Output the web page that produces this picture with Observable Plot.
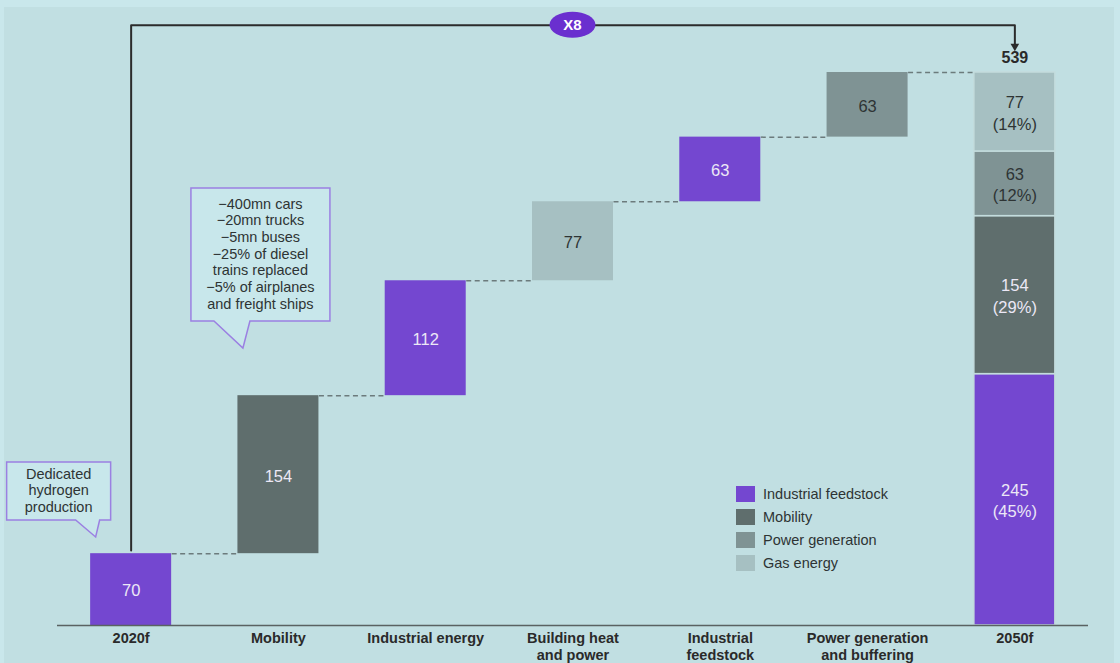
<!DOCTYPE html>
<html><head><meta charset="utf-8">
<script src="https://cdn.jsdelivr.net/npm/d3@7"></script>
<script src="https://cdn.jsdelivr.net/npm/@observablehq/plot@0.6"></script>
<style>
html,body{margin:0;padding:0;background:#c9e7eb;}
#chart{position:relative;width:1120px;height:663px;overflow:hidden;}
#chart svg{position:absolute;left:0;top:0;}
</style></head><body><div id="chart"></div>
<script>
// ---- data ----
const categories = ["2020f","Mobility","Industrial energy","Building heat\nand power","Industrial\nfeedstock","Power generation\nand buffering","2050f"];
const stepValues = [70, 154, 112, 77, 63, 63];
const stepGroups = ["Industrial feedstock","Mobility","Industrial feedstock","Gas energy","Industrial feedstock","Power generation"];
const finalGroups = ["Industrial feedstock","Mobility","Power generation","Gas energy"];
const finalValues = [245, 154, 63, 77];
const finalShares = [45, 29, 12, 14];
const total = 539;
const multiplier = "X8";
const legendGroups = ["Industrial feedstock","Mobility","Power generation","Gas energy"];
const legendColors = ["#7447d0","#5f6e6d","#7f9394","#a6c0c2"];
const noteLeft = ["Dedicated","hydrogen","production"];
const noteMobility = ["\u2212400mn cars","\u221220mn trucks","\u22125mn buses","\u221225% of diesel","trains replaced","\u22125% of airplanes","and freight ships"];

// ---- derived tables ----
const lightText = new Set(["Industrial feedstock","Mobility"]);
let cum = 0;
const bars = stepValues.map((v, i) => {
  const row = {i, y1: cum, y2: cum + v, group: stepGroups[i], label: String(v), stack: false};
  cum += v; return row;
});
let c2 = 0;
finalValues.forEach((v, k) => {
  bars.push({i: 6, y1: c2, y2: c2 + v, group: finalGroups[k], label: `${v}\n(${finalShares[k]}%)`, stack: true});
  c2 += v;
});
const connectors = stepValues.map((v, i) => ({i, y: bars[i].y2}));
const half = 0.275;
const font = "'Liberation Sans', Arial, sans-serif";
const topY = 585; // value level of the X8 bracket

const plot = Plot.plot({
  width: 1120, height: 663,
  marginLeft: 57, marginRight: 32, marginTop: 72, marginBottom: 38,
  x: {domain: [-0.5, 6.5], axis: null},
  y: {domain: [0, total], axis: null},
  color: {domain: legendGroups, range: legendColors},
  style: {background: "transparent", fontFamily: font},
  marks: [
    Plot.rect(bars, {x1: d => d.i - half, x2: d => d.i + half, y1: "y1", y2: "y2", fill: "group",
      stroke: d => d.stack ? "#c3dcdd" : "none", strokeWidth: 1.5}),
    Plot.link(connectors, {x1: d => d.i + half, x2: d => d.i + 1 - half, y1: "y", y2: "y",
      stroke: "#6c7b7c", strokeWidth: 1.5, strokeDasharray: "5,3.5"}),
    Plot.text(bars, {x: "i", y: d => (d.y1 + d.y2) / 2, text: "label", fontSize: 16.5, lineHeight: 1.3,
      fill: d => lightText.has(d.group) ? "#ece8f6" : "#2e3434"}),
    Plot.ruleY([0], {stroke: "#5a6262", strokeWidth: 1.5}),
    Plot.text(categories, {x: (d, i) => i, y: 0, text: d => d, dy: 5, lineAnchor: "top",
      fontSize: 14.5, fontWeight: "bold", fill: "#2a2a2a", lineHeight: 1.17}),
    Plot.text([total], {x: 6, y: d => d, text: d => String(d), dy: -15, fontSize: 16, fontWeight: "bold", fill: "#2a2a2a"}),
    Plot.line([[0, bars[0].y2 + 3], [0, topY], [6, topY], [6, 566]], {x: d => d[0], y: d => d[1], stroke: "#2b2b2b", strokeWidth: 2}),
    Plot.dot([[6, 564.5]], {x: d => d[0], y: d => d[1], symbol: "triangle", rotate: 180, r: 3.2, fill: "#2b2b2b"})
  ]
});
document.getElementById("chart").appendChild(plot);

const svg = d3.select(plot);
const xs = plot.scale("x"), ys = plot.scale("y");
const X = v => xs.apply(v), Y = v => ys.apply(v);

// inner panel background
svg.insert("rect", ":first-child").attr("x", 4).attr("y", 7).attr("width", 1110).attr("height", 660).attr("fill", "#c1dfe2");

// X8 badge
const bx = X(3), by = Y(topY);
svg.append("ellipse").attr("cx", bx).attr("cy", by).attr("rx", 23).attr("ry", 13).attr("fill", "#6a2fcf");
svg.append("text").attr("x", bx).attr("y", by).attr("dy", "0.36em").attr("text-anchor", "middle")
  .attr("font-family", font).attr("font-weight", "bold").attr("font-size", 15).attr("fill", "#fff").text(multiplier);

// callouts
function callout(x0, y0, w, h, tail, lines, lh) {
  const [t1, t2, tx, ty] = tail;
  const p = `M${x0},${y0}H${x0 + w}V${y0 + h}H${t2}L${tx},${ty}L${t1},${y0 + h}H${x0}Z`;
  svg.append("path").attr("d", p).attr("fill", "#c8e7eb").attr("stroke", "#9b80e2").attr("stroke-width", 1.5);
  const t = svg.append("text").attr("font-family", font).attr("font-size", 14.5).attr("fill", "#2e3434").attr("text-anchor", "middle");
  const cx = x0 + w / 2, start = y0 + (h - lh * lines.length) / 2 + lh * 0.75;
  lines.forEach((s, k) => t.append("tspan").attr("x", cx).attr("y", start + k * lh).text(s));
}
const a0 = X(0);
callout(a0 - 124, 462, 104, 58, [a0 - 55, a0 - 31, a0 - 35, 537], noteLeft, 16.5);
const a1 = X(1);
callout(a1 - 87, 188, 139, 133, [a1 - 64, a1 - 28, a1 - 35, 348], noteMobility, 16.7);

// legend
const lg = svg.append("g").attr("font-family", font).attr("font-size", 14.5).attr("fill", "#2e3434").attr("text-anchor", "start");
legendGroups.forEach((g, k) => {
  const yy = 494 + k * 23;
  lg.append("rect").attr("x", 736).attr("y", yy - 8).attr("width", 19).attr("height", 16).attr("fill", legendColors[k]);
  lg.append("text").attr("x", 763).attr("y", yy).attr("dy", "0.35em").text(g);
});
</script></body></html>
